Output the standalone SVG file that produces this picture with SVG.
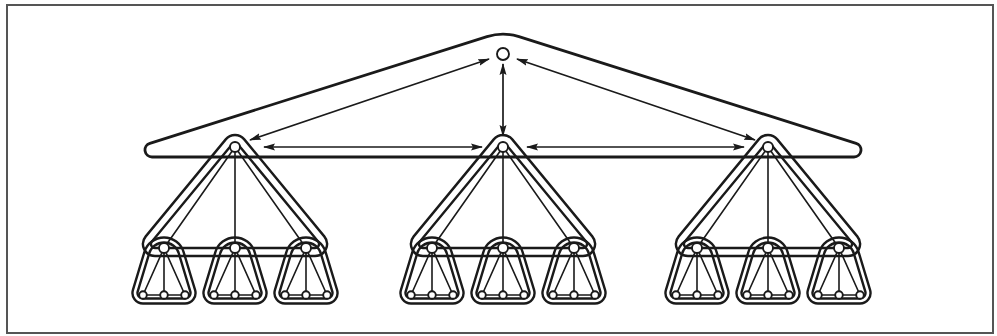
<svg xmlns="http://www.w3.org/2000/svg" xmlns:xlink="http://www.w3.org/1999/xlink" width="997" height="336" viewBox="0 0 997 336">
<style>
.ol{fill:none;stroke:#1a1a1a;stroke-width:2.4;stroke-linejoin:round}
.top{fill:none;stroke:#1a1a1a;stroke-width:2.8;stroke-linejoin:round}
.ed{fill:none;stroke:#1a1a1a;stroke-width:1.6;stroke-linecap:round}
.ar{fill:none;stroke:#1a1a1a;stroke-width:1.7;marker-start:url(#ah);marker-end:url(#ah)}
.nd{fill:#fff;stroke:#1a1a1a;stroke-width:1.9}
.frame{fill:#fff;stroke:#555;stroke-width:2}
</style>
<defs>
<marker id="ah" markerUnits="userSpaceOnUse" markerWidth="14" markerHeight="9" refX="11" refY="4" orient="auto-start-reverse">
<path d="M0,0.5 L12,4 L0,7.5 L2,4 Z" fill="#1a1a1a"/>
</marker>
<path id="tentOuter" d="M -9.258,-7.636 L -89.258,89.364 A 12 12 0 0 0 -80,109 L 80,109 A 12 12 0 0 0 89.258,89.364 L 9.258,-7.636 A 12 12 0 0 0 -9.258,-7.636 Z"/>
<path id="tentInner" d="M -3.086,-2.545 L -83.086,94.455 A 4 4 0 0 0 -80,101 L 80,101 A 4 4 0 0 0 83.086,94.455 L 3.086,-2.545 A 4 4 0 0 0 -3.086,-2.545 Z"/>
<path id="leafOuter" d="M -19.627,4.082 L -31.053,41.969 A 10.5 10.5 0 0 0 -21,55.5 L 21,55.5 A 10.5 10.5 0 0 0 31.053,41.969 L 19.627,4.082 A 20.5 20.5 0 0 0 -19.627,4.082 Z"/>
<path id="leafInner" d="M -14.84,5.525 L -26.266,43.412 A 5.5 5.5 0 0 0 -21,50.5 L 21,50.5 A 5.5 5.5 0 0 0 26.266,43.412 L 14.84,5.525 A 15.5 15.5 0 0 0 -14.84,5.525 Z"/>
</defs>

<rect class="frame" x="7" y="5" width="986" height="328"/>

<g id="cluster-top">
<path class="top" d="M 152,157 L 854,157 A 7 7 0 0 0 856.11,143.33 L 519,36.63 Q 503,31.57 487,36.63 L 149.89,143.33 A 7 7 0 0 0 152,157 Z"/>
</g>

<g id="cluster-sub-1" class="ol"><use href="#tentOuter" x="235" y="147"/><use href="#tentInner" x="235" y="147"/></g>
<g id="cluster-sub-2" class="ol"><use href="#tentOuter" x="503" y="147"/><use href="#tentInner" x="503" y="147"/></g>
<g id="cluster-sub-3" class="ol"><use href="#tentOuter" x="768" y="147"/><use href="#tentInner" x="768" y="147"/></g>

<g id="cluster-leaf-1" class="ol"><use href="#leafOuter" x="164" y="248"/><use href="#leafInner" x="164" y="248"/></g>
<g id="cluster-leaf-2" class="ol"><use href="#leafOuter" x="235" y="248"/><use href="#leafInner" x="235" y="248"/></g>
<g id="cluster-leaf-3" class="ol"><use href="#leafOuter" x="306" y="248"/><use href="#leafInner" x="306" y="248"/></g>
<g id="cluster-leaf-4" class="ol"><use href="#leafOuter" x="432" y="248"/><use href="#leafInner" x="432" y="248"/></g>
<g id="cluster-leaf-5" class="ol"><use href="#leafOuter" x="503" y="248"/><use href="#leafInner" x="503" y="248"/></g>
<g id="cluster-leaf-6" class="ol"><use href="#leafOuter" x="574" y="248"/><use href="#leafInner" x="574" y="248"/></g>
<g id="cluster-leaf-7" class="ol"><use href="#leafOuter" x="697" y="248"/><use href="#leafInner" x="697" y="248"/></g>
<g id="cluster-leaf-8" class="ol"><use href="#leafOuter" x="768" y="248"/><use href="#leafInner" x="768" y="248"/></g>
<g id="cluster-leaf-9" class="ol"><use href="#leafOuter" x="839" y="248"/><use href="#leafInner" x="839" y="248"/></g>

<g id="connectors">
<line class="ar" x1="489" y1="59" x2="250" y2="140"/>
<line class="ar" x1="517" y1="59" x2="755" y2="140"/>
<line class="ar" x1="503" y1="64" x2="503" y2="136"/>
<line class="ar" x1="264" y1="147" x2="482" y2="147"/>
<line class="ar" x1="527" y1="147" x2="744" y2="147"/>
<path class="ed" d="M235,147 L164,248 M235,147 L235,248 M235,147 L306,248"/>
<path class="ed" d="M503,147 L432,248 M503,147 L503,248 M503,147 L574,248"/>
<path class="ed" d="M768,147 L697,248 M768,147 L768,248 M768,147 L839,248"/>
<path class="ed" d="M164,248 l-21,47 M164,248 l0,47 M164,248 l21,47 M143,295 h42"/>
<path class="ed" d="M235,248 l-21,47 M235,248 l0,47 M235,248 l21,47 M214,295 h42"/>
<path class="ed" d="M306,248 l-21,47 M306,248 l0,47 M306,248 l21,47 M285,295 h42"/>
<path class="ed" d="M432,248 l-21,47 M432,248 l0,47 M432,248 l21,47 M411,295 h42"/>
<path class="ed" d="M503,248 l-21,47 M503,248 l0,47 M503,248 l21,47 M482,295 h42"/>
<path class="ed" d="M574,248 l-21,47 M574,248 l0,47 M574,248 l21,47 M553,295 h42"/>
<path class="ed" d="M697,248 l-21,47 M697,248 l0,47 M697,248 l21,47 M676,295 h42"/>
<path class="ed" d="M768,248 l-21,47 M768,248 l0,47 M768,248 l21,47 M747,295 h42"/>
<path class="ed" d="M839,248 l-21,47 M839,248 l0,47 M839,248 l21,47 M818,295 h42"/>
</g>

<g id="node-top"><circle class="nd" cx="503" cy="54" r="6"/></g>
<g id="node-m1"><circle class="nd" cx="235" cy="147" r="5"/></g>
<g id="node-m2"><circle class="nd" cx="503" cy="147" r="5"/></g>
<g id="node-m3"><circle class="nd" cx="768" cy="147" r="5"/></g>
<g id="node-c1"><circle class="nd" cx="164" cy="248" r="5"/></g>
<g id="node-c2"><circle class="nd" cx="235" cy="248" r="5"/></g>
<g id="node-c3"><circle class="nd" cx="306" cy="248" r="5"/></g>
<g id="node-c4"><circle class="nd" cx="432" cy="248" r="5"/></g>
<g id="node-c5"><circle class="nd" cx="503" cy="248" r="5"/></g>
<g id="node-c6"><circle class="nd" cx="574" cy="248" r="5"/></g>
<g id="node-c7"><circle class="nd" cx="697" cy="248" r="5"/></g>
<g id="node-c8"><circle class="nd" cx="768" cy="248" r="5"/></g>
<g id="node-c9"><circle class="nd" cx="839" cy="248" r="5"/></g>
<g id="leaves-1"><circle class="nd" cx="143" cy="295" r="3.8"/><circle class="nd" cx="164" cy="295" r="3.8"/><circle class="nd" cx="185" cy="295" r="3.8"/></g>
<g id="leaves-2"><circle class="nd" cx="214" cy="295" r="3.8"/><circle class="nd" cx="235" cy="295" r="3.8"/><circle class="nd" cx="256" cy="295" r="3.8"/></g>
<g id="leaves-3"><circle class="nd" cx="285" cy="295" r="3.8"/><circle class="nd" cx="306" cy="295" r="3.8"/><circle class="nd" cx="327" cy="295" r="3.8"/></g>
<g id="leaves-4"><circle class="nd" cx="411" cy="295" r="3.8"/><circle class="nd" cx="432" cy="295" r="3.8"/><circle class="nd" cx="453" cy="295" r="3.8"/></g>
<g id="leaves-5"><circle class="nd" cx="482" cy="295" r="3.8"/><circle class="nd" cx="503" cy="295" r="3.8"/><circle class="nd" cx="524" cy="295" r="3.8"/></g>
<g id="leaves-6"><circle class="nd" cx="553" cy="295" r="3.8"/><circle class="nd" cx="574" cy="295" r="3.8"/><circle class="nd" cx="595" cy="295" r="3.8"/></g>
<g id="leaves-7"><circle class="nd" cx="676" cy="295" r="3.8"/><circle class="nd" cx="697" cy="295" r="3.8"/><circle class="nd" cx="718" cy="295" r="3.8"/></g>
<g id="leaves-8"><circle class="nd" cx="747" cy="295" r="3.8"/><circle class="nd" cx="768" cy="295" r="3.8"/><circle class="nd" cx="789" cy="295" r="3.8"/></g>
<g id="leaves-9"><circle class="nd" cx="818" cy="295" r="3.8"/><circle class="nd" cx="839" cy="295" r="3.8"/><circle class="nd" cx="860" cy="295" r="3.8"/></g>
</svg>
